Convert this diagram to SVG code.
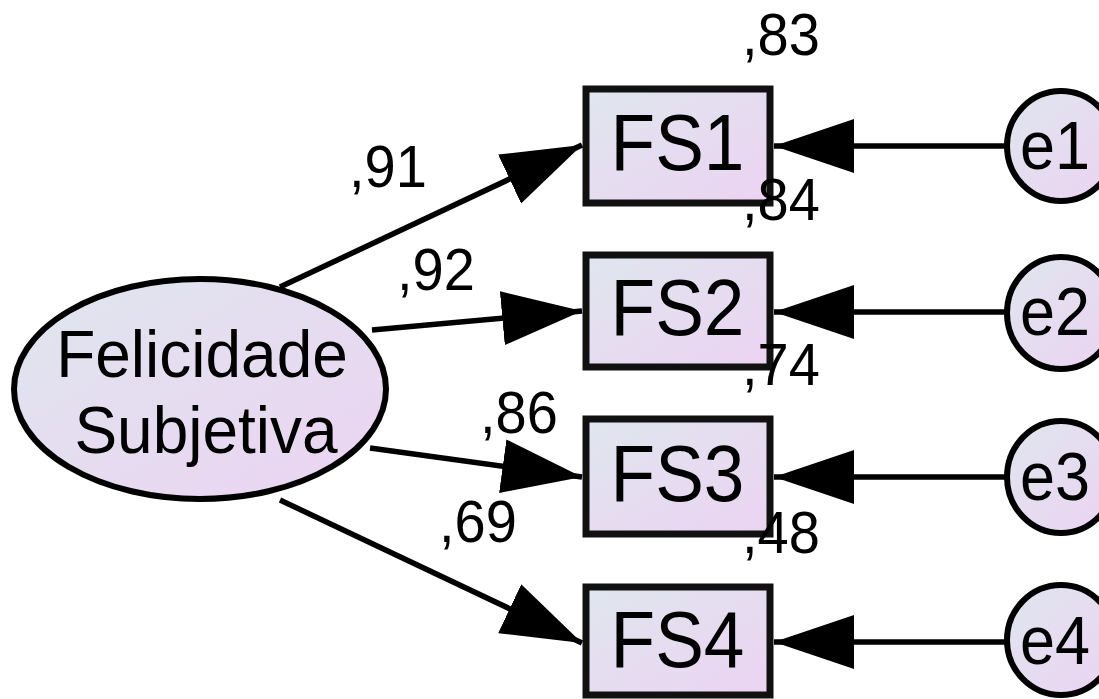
<svg xmlns="http://www.w3.org/2000/svg" width="1099" height="699" viewBox="0 0 1099 699">
  <defs>
    <linearGradient id="fillg" x1="0" y1="0" x2="1" y2="1">
      <stop offset="0" stop-color="#dfe6ee"/>
      <stop offset="1" stop-color="#ecd3f2"/>
    </linearGradient>
    <marker id="arr" viewBox="0 0 80 54" refX="80" refY="27" markerWidth="80" markerHeight="54" markerUnits="userSpaceOnUse" orient="auto">
      <path d="M0,0 L80,27 L0,54 Z" fill="#000"/>
    </marker>
  </defs>
  <style>
    .node { fill: url(#fillg); stroke: #111; stroke-width: 7; }
    .lat { fill: url(#fillg); stroke: #000; stroke-width: 6; }
    .edge { stroke: #000; stroke-width: 5.5; fill: none; marker-end: url(#arr); }
    .lbl { font-family: "Liberation Sans", Arial, sans-serif; fill: #000; }
    .big { font-size: 73px; text-anchor: middle; }
    .mid { font-size: 64px; text-anchor: middle; }
    .num { font-size: 56px; }
    .err { font-size: 63px; }
  </style>

  <g id="connectors">
    <line class="edge" x1="280" y1="287" x2="582" y2="145"/>
    <line class="edge" x1="372" y1="330" x2="582" y2="311"/>
    <line class="edge" x1="370" y1="448" x2="582" y2="477"/>
    <line class="edge" x1="280" y1="500" x2="582" y2="643"/>
    <line class="edge" x1="1006" y1="146" x2="774" y2="146"/>
    <line class="edge" x1="1006" y1="312" x2="774" y2="312"/>
    <line class="edge" x1="1006" y1="477" x2="774" y2="477"/>
    <line class="edge" x1="1006" y1="642" x2="774" y2="642"/>
  </g>

  <g id="FelicidadeSubjetiva">
    <ellipse class="lat" cx="200" cy="389" rx="186" ry="110"/>
    <text class="lbl mid" transform="translate(202,377) scale(1,1.05)">Felicidade</text>
    <text class="lbl mid" transform="translate(206,453) scale(1,1.05)">Subjetiva</text>
  </g>

  <g id="FS1">
    <rect class="node" x="586" y="89" width="184" height="114"/>
    <text class="lbl big" transform="translate(677.5,170) scale(1,1.09)">FS1</text>
  </g>
  <g id="FS2">
    <rect class="node" x="586" y="255" width="184" height="112"/>
    <text class="lbl big" transform="translate(677.5,335) scale(1,1.09)">FS2</text>
  </g>
  <g id="FS3">
    <rect class="node" x="586" y="419" width="184" height="115"/>
    <text class="lbl big" transform="translate(677.5,501) scale(1,1.09)">FS3</text>
  </g>
  <g id="FS4">
    <rect class="node" x="586" y="587" width="184" height="108"/>
    <text class="lbl big" transform="translate(677.5,667) scale(1,1.09)">FS4</text>
  </g>

  <g id="e1">
    <ellipse class="lat" cx="1061" cy="146" rx="54" ry="55"/>
    <text class="lbl err" transform="translate(1020,169) scale(1,1.1)">e1</text>
  </g>
  <g id="e2">
    <ellipse class="lat" cx="1061" cy="313" rx="54" ry="56"/>
    <text class="lbl err" transform="translate(1020,335) scale(1,1.1)">e2</text>
  </g>
  <g id="e3">
    <ellipse class="lat" cx="1061" cy="477" rx="54" ry="56"/>
    <text class="lbl err" transform="translate(1020,500) scale(1,1.1)">e3</text>
  </g>
  <g id="e4">
    <ellipse class="lat" cx="1061" cy="640" rx="54" ry="55"/>
    <text class="lbl err" transform="translate(1020,664) scale(1,1.1)">e4</text>
  </g>

  <g id="labels">
    <text class="lbl num" transform="translate(742,55) scale(1,1.07)">,83</text>
    <text class="lbl num" transform="translate(742,220) scale(1,1.07)">,84</text>
    <text class="lbl num" transform="translate(742,385) scale(1,1.07)">,74</text>
    <text class="lbl num" transform="translate(742,553) scale(1,1.07)">,48</text>
    <text class="lbl num" transform="translate(349,187) scale(1,1.07)">,91</text>
    <text class="lbl num" transform="translate(397,290) scale(1,1.07)">,92</text>
    <text class="lbl num" transform="translate(480,433) scale(1,1.07)">,86</text>
    <text class="lbl num" transform="translate(439,542) scale(1,1.07)">,69</text>
  </g>
</svg>
